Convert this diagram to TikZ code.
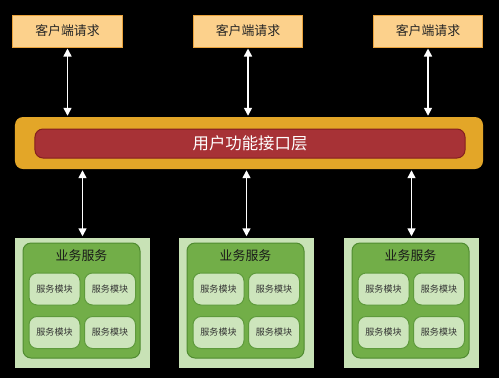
\documentclass[tikz,border=0pt]{standalone}
\usepackage{fontspec}
\setmainfont{Noto Sans CJK SC}
\usepackage{xcolor}
\usetikzlibrary{positioning,arrows.meta}

\definecolor{clientfill}{HTML}{FCD18C}
\definecolor{clientline}{HTML}{E9A23B}
\definecolor{layerfill}{HTML}{E3A628}
\definecolor{apifill}{HTML}{A73236}
\definecolor{apiline}{HTML}{84201F}
\definecolor{svcfill}{HTML}{C8E2B6}
\definecolor{grpfill}{HTML}{72AE48}
\definecolor{grpline}{HTML}{4F8B30}
\definecolor{modfill}{HTML}{CDE5BC}
\definecolor{modline}{HTML}{5E9A3C}

\begin{document}
\begin{tikzpicture}[x=0.3mm, y=-0.3mm,
  client/.style={draw=clientline, fill=clientfill, line width=0.3mm, inner sep=0pt,
    minimum width=32.7mm, minimum height=9.6mm, font=\fontsize{11}{13}\selectfont, text=black!85},
  layer/.style={fill=layerfill, rounded corners=2.4mm, inner sep=0pt,
    minimum width=140.4mm, minimum height=15.6mm},
  api/.style={draw=apiline, fill=apifill, line width=0.3mm, rounded corners=2.4mm, inner sep=0pt,
    minimum width=129mm, minimum height=8.7mm, font=\fontsize{14}{16}\selectfont, text=white},
  svcout/.style={fill=svcfill, inner sep=0pt, minimum width=40.5mm, minimum height=39mm},
  svcin/.style={draw=grpline, fill=grpfill, line width=0.3mm, rounded corners=2.4mm, inner sep=0pt,
    minimum width=35.1mm, minimum height=34.5mm},
  title/.style={font=\fontsize{11}{13}\selectfont, text=black!90},
  module/.style={draw=modline, fill=modfill, line width=0.3mm, rounded corners=2.4mm, inner sep=0pt,
    minimum width=15.3mm, minimum height=9.6mm, font=\fontsize{7.7}{9}\selectfont, text=black!80},
  ar/.style={{Triangle[length=2.4mm,width=2.4mm]}-{Triangle[length=2.4mm,width=2.4mm]},
    draw=white, line width=0.45mm, shorten <=0.3mm, shorten >=0.3mm}]

  % background
  \fill[black] (0,0) rectangle (499,378);
  \useasboundingbox (0,0) rectangle (499,378);

  % client requests
  \node[client] (c1) at (67.5,31) {客户端请求};
  \node[client] (c2) at (248,31) {客户端请求};
  \node[client] (c3) at (428,31) {客户端请求};

  % interface layer
  \node[layer] (layer) at (249,143) {};
  \node[api] (api) at (250,143.5) {用户功能接口层};

  \draw[ar] (c1.south) -- (c1.south |- layer.north);
  \draw[ar] (c2.south) -- (c2.south |- layer.north);
  \draw[ar] (c3.south) -- (c3.south |- layer.north);

  % business services
  \foreach \i/\x in {1/82.5, 2/246.5, 3/411.5} {
    \node[svcout] (s\i) at (\x,302.5) {};
    \node[svcin] (g\i) at (\x-1,300.5) {};
    \node[title] (t\i) at (\x-1,256) {业务服务};
    \node[module] (m\i a) at (\x-28,289) {服务模块};
    \node[module] (m\i b) at (\x+27.5,289) {服务模块};
    \node[module] (m\i c) at (\x-28,332.5) {服务模块};
    \node[module] (m\i d) at (\x+27.5,332.5) {服务模块};
    \draw[ar] (s\i.north |- layer.south) -- (s\i.north);
  }
\end{tikzpicture}
\end{document}
